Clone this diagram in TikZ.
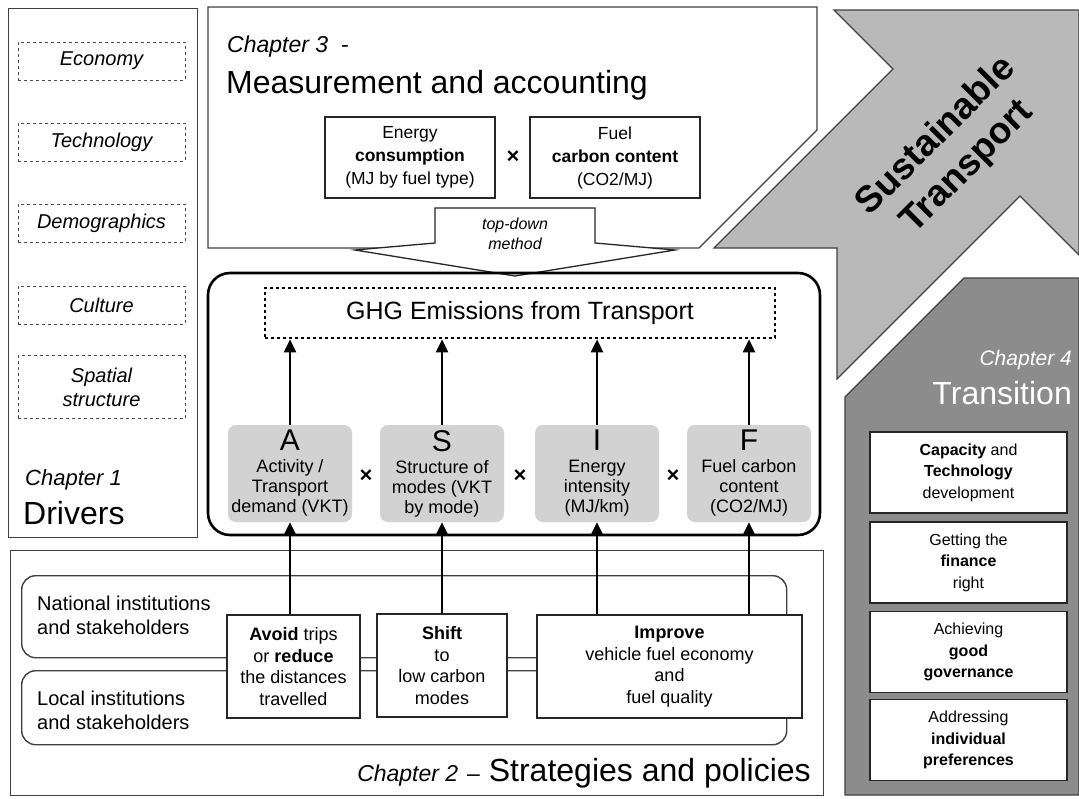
\documentclass[tikz,border=0pt]{standalone}
\usepackage{fontspec}
\setmainfont{Liberation Sans}
\usetikzlibrary{arrows.meta}
\definecolor{shaftgray}{HTML}{B9B9B9}
\definecolor{transgray}{HTML}{8C8C8C}
\definecolor{factgray}{HTML}{D2D2D2}
\newcommand{\fs}[2]{\fontsize{#1}{#2}\selectfont}

\begin{document}
\begin{tikzpicture}[x=1pt,y=-1pt,
  panel/.style={draw=black!75,line width=1.3pt},
  lbl/.style={inner sep=1pt},
  drv/.style={draw=black!70,dashed,line width=0.9pt,minimum width=167,minimum height=38,font=\fs{20}{24}\itshape,align=center,inner sep=2pt},
  wbox/.style={draw=black!85,line width=1.2pt,fill=white,align=center,inner sep=2pt},
  fact/.style={fill=factgray,rounded corners=8pt,minimum width=124,minimum height=97,align=center,font=\fs{18}{20},inner sep=1pt},
  times/.style={font=\fs{22}{22}\bfseries,inner sep=0pt},
  arr/.style={line width=2.6pt,-{Triangle[length=13pt,width=12pt]}},
  inst/.style={draw=black!75,line width=1.4pt,rounded corners=14pt,anchor=north west,minimum width=765},
  trbox/.style={wbox,minimum width=197,minimum height=81,font=\fs{16}{21.5}}]

 \useasboundingbox (0,0) rectangle (1079,798);
 \fill[white] (0,0) rectangle (1079,798);

 \node[panel,minimum width=189,minimum height=529,anchor=north west,inner sep=0pt] (drivers) at (8,8) {};
 \node[drv] (economy) at (101.5,61) {Economy};
 \node[drv] (technology) at (101.5,142) {Technology};
 \node[drv] (demographics) at (101.5,223) {Demographics};
 \node[drv] (culture) at (101.5,305) {Culture};
 \node[drv,minimum height=63] (spatial) at (101.5,387) {Spatial\\structure};
 \node[lbl,anchor=west,font=\fs{22}{22}\itshape] (ch1) at (24,480) {Chapter 1};
 \node[lbl,anchor=west,font=\fs{32}{32}] (drvt) at (22,513) {Drivers};

 \draw[panel,fill=white] (208,7) -- (817,7) -- (817,130) -- (699,248) -- (208,248) -- cycle;
 \node[lbl,anchor=west,font=\fs{23}{23}\itshape] (ch3) at (226,47) {Chapter 3 \ -};
 \node[lbl,anchor=west,font=\fs{32}{32}] (meas) at (225,85) {Measurement and accounting};
 \node[wbox,minimum width=170,minimum height=81,font=\fs{17.5}{23}] (energy) at (410,157.5) {Energy\\\textbf{consumption}\\(MJ by fuel type)};
 \node[wbox,minimum width=170,minimum height=81,font=\fs{17.5}{23}] (fuelc) at (615,157.5) {Fuel\\\textbf{carbon content}\\(CO2/MJ)};
 \node[times] (x0) at (513,157) {×};
 \draw[line width=1.3pt,draw=black!85,fill=white] (435,208) -- (595,208) -- (595,243) -- (675,250) -- (515,276) -- (355,250) -- (435,243) -- cycle;
 \node[lbl,align=center,font=\fs{16}{20}\itshape] (tdm) at (515,234) {top-down\\method};

 \node[draw,line width=2.6pt,rounded corners=22pt,minimum width=612,minimum height=262] (asif) at (514,404) {};
 \node[draw,dash pattern=on 3pt off 3pt,line width=2.6pt,minimum width=510,minimum height=50,font=\fs{25}{25}] (ghg) at (520,313) {GHG Emissions from Transport};
 \node[fact] (a) at (290,473.5) {{\fs{30}{30}A}\\[2pt]Activity /\\Transport\\demand (VKT)};
 \node[fact] (s) at (442,473.5) {{\fs{30}{30}S}\\[2pt]Structure of\\modes (VKT\\by mode)};
 \node[fact] (i) at (597,473.5) {{\fs{30}{30}I}\\[2pt]Energy\\intensity\\(MJ/km)};
 \node[fact] (f) at (749,473.5) {{\fs{30}{30}F}\\[2pt]Fuel carbon\\content\\(CO2/MJ)};
 \node[times] (x1) at (366,476) {×};
 \node[times] (x2) at (520,476) {×};
 \node[times] (x3) at (673,476) {×};
 \foreach \n in {a,s,i,f}
   \draw[arr] (\n.north) -- (\n.north |- ghg.south);

 \node[panel,minimum width=813,minimum height=245,anchor=north west,inner sep=0pt] (ch2) at (10,550) {};
 \node[inst,minimum height=82] (natl) at (21,575) {};
 \node[inst,minimum height=74] (locl) at (21,670) {};
 \node[lbl,anchor=west,align=left,font=\fs{20}{24}] (natlt) at (36,615) {National institutions\\and stakeholders};
 \node[lbl,anchor=west,align=left,font=\fs{20}{24}] (loclt) at (36,710) {Local institutions\\and stakeholders};
 \node[wbox,minimum width=133,minimum height=103,font=\fs{18}{21.5}] (avoid) at (293.5,666.5) {\textbf{Avoid} trips\\or \textbf{reduce}\\the distances\\travelled};
 \node[wbox,minimum width=130,minimum height=103,font=\fs{18}{21.5}] (shift) at (442,665.5) {\textbf{Shift}\\to\\low carbon\\modes};
 \node[wbox,minimum width=265,minimum height=103,font=\fs{18}{21.5}] (improve) at (669.5,666.5) {\textbf{Improve}\\vehicle fuel economy\\and\\fuel quality};
 \draw[arr] (a.south |- avoid.north) -- (a.south);
 \draw[arr] (s.south |- shift.north) -- (s.south);
 \draw[arr] (i.south |- improve.north) -- (i.south);
 \draw[arr] (f.south |- improve.north) -- (f.south);
 \node[lbl,anchor=east,font=\fs{32}{32}] (ch2t) at (812,773) {{\fs{23}{23}\itshape Chapter 2} {\fs{23}{23}–} Strategies and policies};

 \draw[draw=black!75,line width=1.2pt,fill=shaftgray] (834,10) -- (1079,10) -- (1079,255) -- (1020,196) -- (837,379) -- (837,248) -- (714,248) -- (893,69) -- cycle;
 \node[lbl,rotate=45,align=center,font=\fs{37}{44}\bfseries] (sust) at (952,152) {Sustainable\\Transport};

 \draw[draw=black!75,line width=1.2pt,fill=transgray] (845,795) -- (845,397) -- (964,278) -- (1079,278) -- (1079,795) -- cycle;
 \node[lbl,anchor=east,text=white,font=\fs{21}{21}\itshape] (ch4) at (1073,360) {Chapter 4};
 \node[lbl,anchor=east,text=white,font=\fs{32}{32}] (trans) at (1073,393) {Transition};
 \node[trbox] (capacity) at (968.5,472.5) {\textbf{Capacity} and\\\textbf{Technology}\\development};
 \node[trbox] (finance) at (968.5,562.5) {Getting the\\\textbf{finance}\\right};
 \node[trbox] (governance) at (968.5,652) {Achieving\\\textbf{good}\\\textbf{governance}};
 \node[trbox] (prefs) at (968.5,740) {Addressing\\\textbf{individual}\\\textbf{preferences}};
\end{tikzpicture}
\end{document}
